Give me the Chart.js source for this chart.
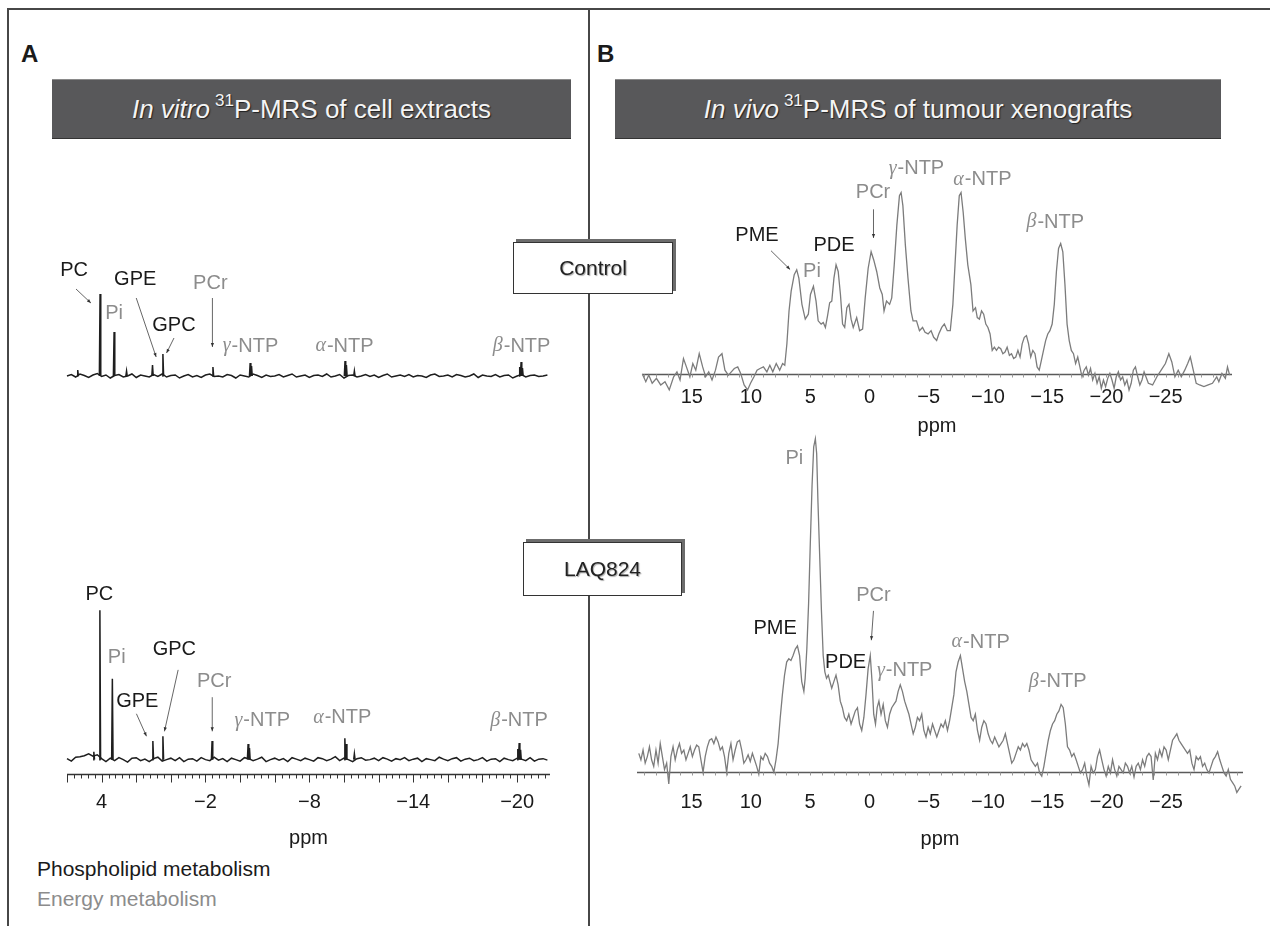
<!DOCTYPE html>
<html>
<head>
<meta charset="utf-8">
<script src="https://cdn.jsdelivr.net/npm/chart.js@4.4.1/dist/chart.umd.min.js"></script>
<style>
  body { margin:0; width:1270px; height:926px; position:relative; overflow:hidden; background:#fff;
         font-family:'Liberation Sans', Arial, sans-serif; color:#1a1a1a; }
  .ln { position:absolute; background:#474747; }
  .letter { position:absolute; font-weight:bold; font-size:24px; line-height:28px; }
  .hdr { position:absolute; background:#58585a; color:#f4f4f4; font-size:26px; display:flex;
         align-items:center; justify-content:center; border-top:1px solid #8a8a8a; box-shadow:0 1px 0 #333;
         text-shadow:1px 1px 1px #222; }
  .hdr sup { font-size:17px; vertical-align:top; position:relative; top:-3px; margin-left:5px; }
  .box { position:absolute; background:#fff; border:1.5px solid #333; box-shadow:3px -3px 0 #6c6c6c;
         display:flex; align-items:center; justify-content:center; font-size:21px; color:#222;
         text-shadow:1px 1px 1px #aaa; box-sizing:border-box; z-index:5; }
  canvas { position:absolute; }
  .key { position:absolute; left:37px; font-size:21px; line-height:24px; }
</style>
</head>
<body>
<div class="ln" style="left:7px;top:8px;width:1263px;height:2px"></div>
<div class="ln" style="left:7px;top:8px;width:2px;height:918px"></div>
<div class="ln" style="left:588px;top:8px;width:2px;height:234px"></div>
<div class="ln" style="left:588px;top:294px;width:2px;height:248px"></div>
<div class="ln" style="left:588px;top:596px;width:2px;height:330px"></div>

<div class="letter" style="left:21px;top:40px">A</div>
<div class="letter" style="left:597px;top:40px">B</div>

<div class="hdr" style="left:52px;top:79px;width:519px;height:58px"><span><i>In vitro</i><sup>31</sup>P-MRS of cell extracts</span></div>
<div class="hdr" style="left:615px;top:79px;width:606px;height:58px"><span><i>In vivo</i><sup>31</sup>P-MRS of tumour xenografts</span></div>

<canvas id="specA1" width="560" height="150" style="left:20px;top:245px"></canvas>
<canvas id="specA2" width="560" height="274" style="left:20px;top:580px"></canvas>
<canvas id="specB1" width="670" height="292" style="left:600px;top:150px"></canvas>
<canvas id="specB2" width="670" height="430" style="left:600px;top:425px"></canvas>

<div class="box" style="left:513px;top:242px;width:160px;height:52px">Control</div>
<div class="box" style="left:523px;top:542px;width:159px;height:54px">LAQ824</div>

<div class="key" style="top:857px;color:#1a1a1a">Phospholipid metabolism</div>
<div class="key" style="top:887px;color:#8c8c8c">Energy metabolism</div>

<script>
// 31P spectra, ppm on x, intensity in arbitrary units
const aTickLabels = [4, -2, -8, -14, -20];
const bTickLabels = [15, 10, 5, 0, -5, -10, -15, -20, -25];

// panel A: baseline noise sampled on a ppm grid, plus sharp peaks
const aNoisePpm = [6,5.75,5.5,5.25,5,4.75,4.5,4.25,4,3.75,3.5,3.25,3,2.75,2.5,2.25,2,1.75,1.5,1.25,1,0.75,0.5,0.25,0,-0.25,-0.5,-0.75,-1,-1.25,-1.5,-1.75,-2,-2.25,-2.5,-2.75,-3,-3.25,-3.5,-3.75,-4,-4.25,-4.5,-4.75,-5,-5.25,-5.5,-5.75,-6,-6.25,-6.5,-6.75,-7,-7.25,-7.5,-7.75,-8,-8.25,-8.5,-8.75,-9,-9.25,-9.5,-9.75,-10,-10.25,-10.5,-10.75,-11,-11.25,-11.5,-11.75,-12,-12.25,-12.5,-12.75,-13,-13.25,-13.5,-13.75,-14,-14.25,-14.5,-14.75,-15,-15.25,-15.5,-15.75,-16,-16.25,-16.5,-16.75,-17,-17.25,-17.5,-17.75,-18,-18.25,-18.5,-18.75,-19,-19.25,-19.5,-19.75,-20,-20.25,-20.5,-20.75,-21,-21.25,-21.5,-21.75];
const ctrlANoise = [0,1.5,-1,2,0.5,-1.5,1,2.5, -0.5,1,-2,0.5,1.5,-1,0,2, -1.5,1,0,-1,1.5,-0.5,2,-1, 0.5,1,-2,0,1.5,-1,0.5,-1.5,
  1,2,-0.5,0,-1,1.5,0.5,-2, 1,0,-1,2,0.5,-1.5,1,-0.5, 0,1.5,-1,0.5,2,-1,0,1, -1.5,0.5,1,-0.5,2,-1,0,1.5,
  -2,0.5,1,-1,0,1.5,-0.5,1, -1.5,0.5,2,-1,0,1,-0.5,1.5, -1,0.5,0,-1.5,1,2,-0.5,0, 1,-1,1.5,0.5,-1,0,2,-1.5,
  1,0,-0.5,1.5,-1,0.5,1,-2, 0,1.5,-1,0.5,1,-0.5,0,1];
const laqANoise = [1,-1.5,2.5,3,4,6,3.5,5, 1,-2,1.5,-1,2,0,-2.5,1.5, 2,-1,0.5,-2,1,2.5,-1.5,0, 1.5,-1,2,-2,0.5,1,-1.5,2,
  0,-1,2.5,-0.5,1,-2,1.5,0, -1.5,2,1,-1,0.5,2.5,-2,0, 1.5,-0.5,1,-2,2,0.5,-1,1.5, 0,-1.5,2,1,-1,0.5,3,-1,
  1.5,0,-2,1,2,-0.5,0,1.5, -1,2,0.5,-1.5,1,0,2,-1, 0.5,1.5,-2,1,0,-1,2.5,0.5, -1,1,2,-1.5,0.5,1.5,-1,0,
  2,-1.5,0.5,1,-2,1.5,0,-1, 1.5,0.5,-1,2,-1.5,0.5,1,-0.5];
const ctrlAPeakPpm = [5.38, 4.09, 3.28, 2.56, 1.06, 0.46, -2.43, -4.58, -4.66, -10.06, -10.14, -10.6, -20.15, -20.23, -20.31];
const ctrlAPeakHt  = [6, 82, 44, 5, 11, 22, 9, 13, 10, 15, 11, 5, 9, 14, 8];
const laqAPeakPpm  = [4.45, 4.1, 3.38, 1.04, 0.46, -2.38, -4.46, -4.54, -10.05, -10.13, -10.6, -20.04, -20.12, -20.2];
const laqAPeakHt   = [8, 153, 83, 19, 24, 19, 16, 12, 22, 16, 6, 11, 17, 10];

// panel B: in vivo spectra
const ctrlBPpm = [19.17,18.88,18.63,18.34,17.98,17.62,17.26,16.90,16.53,16.25,15.99,15.70,15.45,15.16,14.91,14.66,14.37,14.08,13.83,13.57,13.29,13.00,12.74,12.45,12.20,11.91,11.66,11.41,11.12,10.87,10.58,10.29,10.04,9.75,9.49,9.24,8.95,8.66,8.41,8.16,7.87,7.58,7.33,7.15,6.97,6.79,6.61,6.35,6.14,5.96,5.70,5.42,5.16,4.98,4.73,4.51,4.33,4.08,3.90,3.72,3.54,3.36,3.18,3.00,2.82,2.64,2.45,2.27,2.09,1.91,1.73,1.55,1.37,1.08,0.83,0.58,0.36,0.11,-0.14,-0.36,-0.61,-0.87,-1.08,-1.23,-1.44,-1.70,-1.88,-2.09,-2.31,-2.53,-2.67,-2.82,-3.03,-3.25,-3.50,-3.68,-3.97,-4.22,-4.48,-4.69,-4.95,-5.20,-5.42,-5.67,-5.85,-6.10,-6.32,-6.57,-6.82,-7.04,-7.22,-7.40,-7.58,-7.73,-7.91,-8.09,-8.30,-8.56,-8.74,-8.95,-9.10,-9.28,-9.46,-9.64,-9.82,-10.00,-10.18,-10.36,-10.54,-10.72,-10.90,-11.08,-11.26,-11.44,-11.62,-11.81,-11.99,-12.17,-12.35,-12.53,-12.71,-12.89,-13.07,-13.25,-13.43,-13.61,-13.79,-13.97,-14.15,-14.33,-14.51,-14.69,-14.87,-15.05,-15.23,-15.42,-15.60,-15.78,-15.96,-16.14,-16.32,-16.50,-16.68,-16.86,-17.04,-17.22,-17.40,-17.58,-17.76,-17.94,-18.12,-18.30,-18.48,-18.66,-18.84,-19.03,-19.21,-19.39,-19.57,-19.75,-19.93,-20.11,-20.29,-20.47,-20.65,-20.83,-21.01,-21.19,-21.37,-21.55,-21.73,-21.91,-22.09,-22.27,-22.45,-22.64,-22.82,-23.00,-23.18,-23.54,-23.90,-24.26,-24.62,-24.98,-25.27,-25.52,-25.78,-26.06,-26.32,-26.61,-26.86,-27.08,-27.33,-27.58,-27.87,-28.23,-28.59,-28.95,-29.31,-29.49,-29.75,-30.04,-30.22,-30.40];
const ctrlBInt = [0,-7.7,-1,-9.3,-4.3,-11,-7.7,-16,-2.7,2.3,-6,15.7,7.3,-2.7,10.7,4,20.7,7.3,-2.7,2.3,-6,4,17.3,20.7,4,-1,2.3,5.7,7.3,0.7,-11,-16,-9.3,-2.7,4,5.7,7.3,2.3,9,2.3,10.7,4,10.7,9,30.7,64,84,100.7,105.7,97.3,70.7,55.7,60.7,80.7,89,74,54,50.7,52.3,47.3,59,72.3,74,97.3,110.7,104,80.7,50.7,47.3,67.3,70.7,55.7,47.3,57.3,44,45.7,77.3,107.3,124,115.7,104,87.3,80.7,64,74,70.7,77.3,110.7,150.7,180.7,184,170.7,130.7,97.3,64,54,54,44,47.3,42.3,40.7,44,37.3,34,40.7,47.3,50.7,44,44,70.7,110.7,150.7,180.7,184,164,137.3,110.7,90.7,64,67.3,57.3,55.7,64,60.7,50.7,47.3,40.7,24,27.3,24,27.3,25.7,20.7,22.3,27.3,19,20.7,15.7,17.3,24,17.3,30.7,37.3,39,30.7,17.3,24,20.7,7.3,4,14,24,34,40.7,44,50.7,70.7,104,127.3,132.3,124,90.7,50.7,34,24,20.7,10.7,17.3,7.3,-2.7,4,7.3,-1,5.7,-6,0.7,-9.3,-2.7,-14.3,-6,-12.7,-4.3,0.7,-6,-14.3,-2.7,2.3,-6,-2.7,-11,-6,-16,-9.3,4,7.3,-2.7,-11,-6,2.3,-9.3,-11,-2.7,4,10.7,20.7,12.3,-2.7,4,-2.7,4,10.7,17.3,4,-9.3,-11,-12.7,-11,-9.3,-2.7,-7.7,0.7,-4.3,7.3,-1];

const laqBPpm = [19.45,19.27,19.09,18.91,18.73,18.55,18.37,18.19,18.00,17.82,17.64,17.46,17.28,17.10,16.92,16.74,16.56,16.38,16.20,16.02,15.84,15.65,15.47,15.29,15.11,14.93,14.75,14.57,14.39,14.21,14.03,13.85,13.67,13.49,13.30,13.12,12.94,12.76,12.58,12.40,12.22,12.04,11.86,11.68,11.50,11.32,11.14,10.95,10.77,10.59,10.41,10.23,10.05,9.87,9.69,9.51,9.33,9.15,8.97,8.79,8.60,8.42,8.24,8.06,7.88,7.70,7.52,7.34,7.16,6.98,6.80,6.62,6.44,6.25,6.07,5.89,5.71,5.53,5.42,5.28,5.13,4.99,4.84,4.70,4.56,4.45,4.34,4.19,4.05,3.90,3.76,3.62,3.47,3.33,3.18,3.00,2.82,2.64,2.46,2.28,2.10,1.92,1.74,1.55,1.37,1.19,1.01,0.83,0.65,0.47,0.29,0.11,-0.07,-0.22,-0.36,-0.51,-0.65,-0.80,-0.98,-1.16,-1.34,-1.52,-1.70,-1.88,-2.06,-2.24,-2.42,-2.60,-2.78,-2.97,-3.15,-3.33,-3.51,-3.69,-3.87,-4.05,-4.23,-4.41,-4.59,-4.77,-4.95,-5.13,-5.32,-5.50,-5.68,-5.86,-6.04,-6.22,-6.40,-6.58,-6.76,-6.94,-7.12,-7.30,-7.48,-7.67,-7.85,-8.03,-8.21,-8.39,-8.57,-8.75,-8.93,-9.11,-9.29,-9.47,-9.65,-9.83,-10.01,-10.20,-10.38,-10.56,-10.74,-10.92,-11.10,-11.28,-11.46,-11.64,-11.82,-12.00,-12.18,-12.36,-12.55,-12.73,-12.91,-13.09,-13.27,-13.45,-13.63,-13.81,-13.99,-14.17,-14.35,-14.53,-14.71,-14.89,-15.08,-15.26,-15.44,-15.62,-15.80,-15.98,-16.16,-16.34,-16.52,-16.70,-16.88,-17.06,-17.24,-17.43,-17.61,-17.79,-17.97,-18.15,-18.33,-18.51,-18.69,-18.87,-19.05,-19.23,-19.41,-19.59,-19.78,-19.96,-20.14,-20.32,-20.50,-20.68,-20.86,-21.04,-21.22,-21.40,-21.58,-21.76,-21.94,-22.12,-22.31,-22.49,-22.67,-22.85,-23.03,-23.21,-23.39,-23.57,-23.75,-23.93,-24.11,-24.29,-24.47,-24.66,-24.84,-25.02,-25.20,-25.38,-25.56,-25.74,-25.92,-26.10,-26.28,-26.46,-26.64,-26.82,-27.01,-27.19,-27.37,-27.55,-27.73,-27.91,-28.09,-28.27,-28.45,-28.63,-28.81,-28.99,-29.17,-29.36,-29.54,-29.72,-29.90,-30.08,-30.26,-30.44,-30.62,-30.80,-30.98,-31.16,-31.34];
const laqBInt = [19.3,12.7,22.7,9.3,16,26,12.7,6,22.7,9.3,29.3,16,2.7,9.3,-12,16,26,12.7,22.7,29.3,19.3,22.7,12.7,19.3,26,16,22.7,27.7,26,12.7,0,16,26,32.7,34.3,29.3,36,31,22.7,26,16,0,19.3,29.3,12.7,22.7,31,32.7,22.7,9.3,12.7,17.7,11,19.3,12.7,6,-2,16,12.7,19.3,16,9.3,6,0,12.7,29.3,56,79.3,99.3,112.7,116,114.3,119.3,126,129.3,119.3,92.7,82.7,96,126,172.7,232.7,292.7,332.7,341,326,276,219.3,166,119.3,102.7,96,99.3,92.7,86,92.7,99.3,89.3,72.7,66,56,52.7,59.3,49.3,56,62.7,66,49.3,42.7,56,79.3,106,119.3,92.7,59.3,49.3,66,72.7,59.3,69.3,52.7,46,59.3,66,69.3,72.7,82.7,89.3,82.7,72.7,66,59.3,49.3,39.3,46,56,52.7,59.3,42.7,36,46,39.3,49.3,42.7,36,42.7,49.3,46,52.7,42.7,52.7,66,79.3,102.7,112.7,119.3,106,92.7,82.7,69.3,56,52.7,59.3,42.7,32.7,46,52.7,49.3,39.3,32.7,29.3,36,31,26,29.3,32.7,39.3,29.3,19.3,9.3,12.7,19.3,26,22.7,29.3,26,29.3,22.7,12.7,9.3,6,9.3,-0.7,-4,6,19.3,32.7,42.7,49.3,52.7,59.3,62.7,69.3,66,49.3,26,22.7,16,19.3,12.7,6,-0.7,2.7,9.3,-4,-13,6,-0.7,2.7,16,22.7,12.7,2.7,-4,6,-0.7,12.7,2.7,-4,6,2.7,-0.7,9.3,6,-0.7,6,-5,6,9.3,2.7,12.7,6,16,19.3,16,-8,19.3,12.7,22.7,16,26,22.7,12.7,22.7,32.7,36,39.3,32.7,29.3,26,22.7,19.3,22.7,9.3,2.7,16,12.7,16,6,9.3,2.7,-0.7,6,12.7,16,21,12.7,6,-0.7,-4,2.7,-7.3,-10.7,-14,-20.7,-17.3,-14];

const BLACK = '#1a1a1a', GREY = '#8c8c8c';
const SANS = "'Liberation Sans', Arial, sans-serif";
Chart.defaults.font.family = SANS;

function fmtPpm(v){ return v < 0 ? '\u2212' + Math.abs(v) : String(v); }
function toXY(ppm, vals){
  const n = Math.min(ppm.length, vals.length), out = [];
  for (let i = 0; i < n; i++) out.push({x: ppm[i], y: vals[i]});
  return out;
}
// each peak is a narrow spike, separated by a gap
function spikes(ppm, hts){
  const out = [];
  ppm.forEach((c, i) => { out.push({x:c+0.04, y:0}, {x:c, y:hts[i]}, {x:c-0.04, y:0}, {x:c-0.04, y:null}); });
  return out;
}

// axis line + tick marks drawn on the library's scales
const ppmAxis = {
  id: 'ppmAxis',
  beforeDatasetsDraw(chart, args, o){
    if (!o || o.at === undefined) return;
    const {ctx, scales:{x, y}} = chart;
    const y0 = Math.round(y.getPixelForValue(o.at)) + 0.5;
    ctx.save();
    ctx.strokeStyle = o.color; ctx.lineWidth = o.width;
    ctx.beginPath(); ctx.moveTo(x.left, y0); ctx.lineTo(x.right, y0); ctx.stroke();
    ctx.lineWidth = 1; ctx.strokeStyle = o.tickColor;
    for (let i = 0; ; i++){
      const v = o.from - i * o.step;
      if (v < x.min - 1e-6) break;
      const px = Math.round(x.getPixelForValue(v)) + 0.5;
      const len = (o.every && i % o.every === 0) ? o.major : o.minor;
      ctx.beginPath(); ctx.moveTo(px, y0); ctx.lineTo(px, y0 + len); ctx.stroke();
    }
    ctx.restore();
  }
};

const peakLabels = {
  id: 'peakLabels',
  afterDatasetsDraw(chart, args, o){
    const {ctx, scales:{x, y}} = chart;
    ctx.save();
    (o.arrows || []).forEach(a => {
      const x1 = x.getPixelForValue(a[0]), y1 = y.getPixelForValue(a[1]);
      const x2 = x.getPixelForValue(a[2]), y2 = y.getPixelForValue(a[3]);
      const ang = Math.atan2(y2 - y1, x2 - x1);
      ctx.strokeStyle = '#555'; ctx.fillStyle = '#333'; ctx.lineWidth = 0.9;
      ctx.beginPath(); ctx.moveTo(x1, y1); ctx.lineTo(x2, y2); ctx.stroke();
      ctx.beginPath();
      ctx.moveTo(x2, y2);
      ctx.lineTo(x2 - 4*Math.cos(ang) + 1.6*Math.sin(ang), y2 - 4*Math.sin(ang) - 1.6*Math.cos(ang));
      ctx.lineTo(x2 - 4*Math.cos(ang) - 1.6*Math.sin(ang), y2 - 4*Math.sin(ang) + 1.6*Math.cos(ang));
      ctx.closePath(); ctx.fill();
    });
    ctx.textBaseline = 'middle';
    (o.items || []).forEach(it => {
      const px = x.getPixelForValue(it.x), py = y.getPixelForValue(it.y);
      ctx.fillStyle = it.grey ? GREY : BLACK;
      if (it.greek){
        const serif = "italic 20px 'Liberation Serif', serif", sans = '20px ' + SANS;
        ctx.font = serif; const gw = ctx.measureText(it.greek).width;
        ctx.font = sans; const tw = ctx.measureText('-NTP').width;
        const sx = px - (gw + tw) / 2;
        ctx.textAlign = 'left';
        ctx.font = serif; ctx.fillText(it.greek, sx, py);
        ctx.font = sans; ctx.fillText('-NTP', sx + gw + 1, py);
      } else {
        ctx.textAlign = 'center'; ctx.font = '20px ' + SANS;
        ctx.fillText(it.text, px, py);
      }
    });
    ctx.restore();
  }
};

function spectrum(id, cfg){
  const showAxis = !!cfg.ticks;
  return new Chart(document.getElementById(id), {
    type: 'line',
    data: { datasets: cfg.datasets },
    options: {
      responsive: false, animation: false, events: [],
      layout: { padding: cfg.padding },
      elements: { point: { radius: 0 }, line: { tension: 0 } },
      plugins: { legend: {display:false}, tooltip: {enabled:false}, peakLabels: cfg.labels, ppmAxis: cfg.axis || {} },
      scales: {
        x: { type:'linear', reverse:true, min:cfg.xMin, max:cfg.xMax, display:showAxis,
             grid:{display:false, drawTicks:false}, border:{display:false},
             afterBuildTicks: s => { s.ticks = (cfg.ticks || []).map(v => ({value:v})); },
             ticks:{ autoSkip:false, maxRotation:0, padding:cfg.tickPad || 0, color:BLACK, font:{size:20}, callback: v => fmtPpm(v) },
             title:{ display:showAxis, text:'ppm', color:BLACK, font:{size:20}, padding:{top:cfg.titlePad || 0, bottom:0} } },
        y: { display:false, min:cfg.yMin, max:cfg.yMax }
      }
    },
    plugins: [ppmAxis, peakLabels]
  });
}

const aLine = { borderColor:'#1e1e1e', borderWidth:1.5, spanGaps:false, clip:false };
const bLine = { borderColor:'#7c7c7c', borderWidth:1.3, clip:false };

spectrum('specA1', {
  xMin:-21.9, xMax:6, yMin:-14, yMax:121,
  padding:{left:47, right:30, top:10, bottom:5},
  datasets:[ {...aLine, data: toXY(aNoisePpm, ctrlANoise)}, {...aLine, data: spikes(ctrlAPeakPpm, ctrlAPeakHt)} ],
  labels:{
    items:[ {text:'PC', x:5.59, y:106}, {text:'Pi', x:3.28, y:63, grey:true}, {text:'GPE', x:2.06, y:97},
            {text:'GPC', x:-0.18, y:51}, {text:'PCr', x:-2.28, y:93, grey:true},
            {greek:'\u03b3', x:-4.57, y:30, grey:true}, {greek:'\u03b1', x:-10.0, y:30, grey:true}, {greek:'\u03b2', x:-20.23, y:30, grey:true} ],
    arrows:[ [5.48,87,4.62,73], [2.0,78,0.85,19], [-0.18,38,0.25,23], [-2.4,78,-2.4,29] ]
  }
});

spectrum('specA2', {
  xMin:-21.9, xMax:6, yMin:-26, yMax:179, ticks:aTickLabels, tickPad:5, titlePad:7,
  padding:{left:47, right:30, top:5, bottom:4},
  axis:{ at:-15, from:6, step:0.4, every:5, major:8, minor:4, color:'#333', width:1.5, tickColor:'#333' },
  datasets:[ {...aLine, data: toXY(aNoisePpm, laqANoise)}, {...aLine, data: spikes(laqAPeakPpm, laqAPeakHt)} ],
  labels:{
    items:[ {text:'PC', x:4.13, y:169}, {text:'Pi', x:3.13, y:105, grey:true}, {text:'GPC', x:-0.2, y:113},
            {text:'GPE', x:1.94, y:60}, {text:'PCr', x:-2.5, y:80, grey:true},
            {greek:'\u03b3', x:-5.25, y:40, grey:true}, {greek:'\u03b1', x:-9.87, y:43, grey:true}, {greek:'\u03b2', x:-20.08, y:40, grey:true} ],
    arrows:[ [1.99,47,1.41,24], [-0.42,92,0.37,29], [-2.39,64,-2.39,29] ]
  }
});

spectrum('specB1', {
  xMin:-30.6, xMax:19.2, yMin:-8, yMax:219, ticks:bTickLabels, tickPad:3, titlePad:2,
  padding:{left:42, right:38, top:8, bottom:4},
  axis:{ at:0, from:19, step:1, every:0, major:0, minor:3, color:'#5a5a5a', width:1.6, tickColor:'#9a9a9a' },
  datasets:[ {...bLine, data: toXY(ctrlBPpm, ctrlBInt)} ],
  labels:{
    items:[ {text:'PME', x:9.49, y:140}, {text:'Pi', x:4.85, y:104, grey:true}, {text:'PDE', x:2.99, y:130},
            {text:'PCr', x:-0.3, y:184, grey:true},
            {greek:'\u03b3', x:-3.92, y:208, grey:true}, {greek:'\u03b1', x:-9.49, y:197, grey:true}, {greek:'\u03b2', x:-15.64, y:154, grey:true} ],
    arrows:[ [8.31,125,6.7,106], [-0.34,167,-0.34,138] ]
  }
});

spectrum('specB2', {
  xMin:-31.5, xMax:19.6, yMin:-10, yMax:350, ticks:bTickLabels, tickPad:8, titlePad:5,
  padding:{left:37, right:27, top:5, bottom:4},
  axis:{ at:0, from:19, step:1, every:0, major:0, minor:3, color:'#5a5a5a', width:1.6, tickColor:'#9a9a9a' },
  datasets:[ {...bLine, data: toXY(laqBPpm, laqBInt)} ],
  labels:{
    items:[ {text:'Pi', x:6.33, y:321, grey:true}, {text:'PCr', x:-0.34, y:181, grey:true}, {text:'PME', x:7.95, y:147},
            {greek:'\u03b1', x:-9.34, y:133, grey:true}, {text:'PDE', x:2.01, y:112},
            {greek:'\u03b3', x:-2.93, y:104, grey:true}, {greek:'\u03b2', x:-15.83, y:93, grey:true} ],
    arrows:[ [-0.34,165,-0.16,135] ]
  }
});
</script>
</body>
</html>
